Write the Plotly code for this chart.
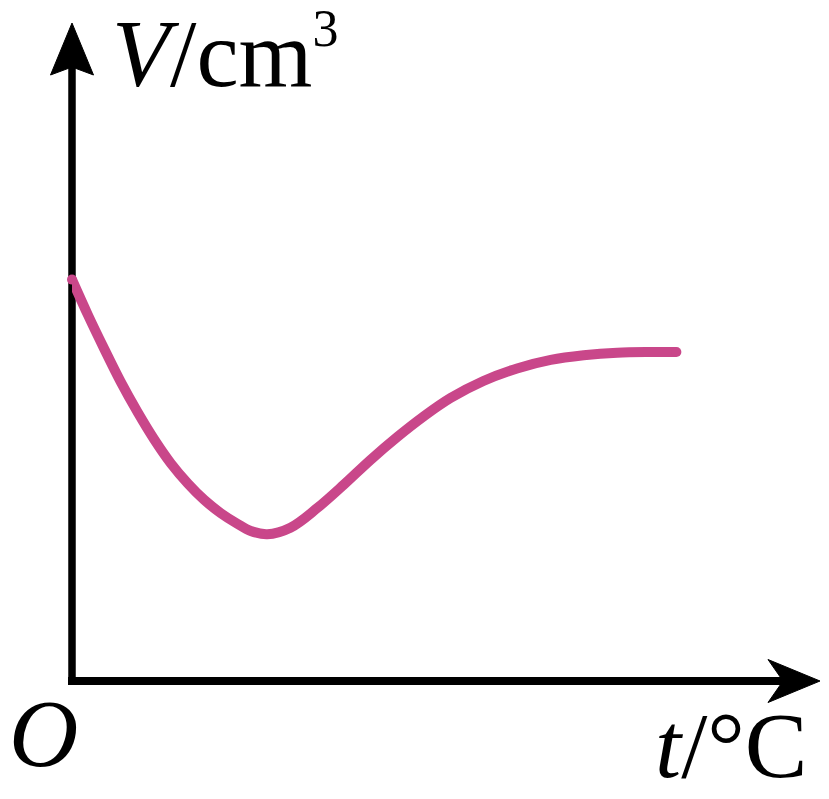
import plotly.graph_objects as go

# Curve values (t and V in arbitrary units, axes span 0..10)
t_vals = [0.00, 0.21, 0.43, 0.65, 0.88, 1.10, 1.32, 1.55, 1.77, 1.99, 2.21, 2.39, 2.61,
          2.92, 3.28, 3.64, 3.99, 4.35, 4.70, 5.06, 5.50, 5.95, 6.40, 6.84, 7.29, 7.73, 8.08]
v_vals = [6.10, 5.57, 5.05, 4.55, 4.08, 3.67, 3.31, 3.00, 2.75, 2.55, 2.39, 2.28, 2.23,
          2.33, 2.63, 2.99, 3.36, 3.71, 4.02, 4.30, 4.56, 4.75, 4.88, 4.95, 4.99, 5.00, 5.00]

x_label = "<i>t</i>/°C"
y_label = "<i>V</i>/cm<sup><span style='font-size:52px'>3</span></sup>"
origin_label = "<i>O</i>"

curve_color = "#C9478A"
serif = "Liberation Serif, Times New Roman, DejaVu Serif, serif"

L, R, T, B = 72, 9, 23, 118
W, H = 829, 799
pw, ph = W - L - R, H - T - B


def px_x(px):
    return (px - L) / pw


def px_y(py):
    return (H - B - py) / ph


fig = go.Figure()
fig.add_trace(go.Scatter(
    x=t_vals, y=v_vals, mode="lines",
    line=dict(color=curve_color, width=10, shape="spline", smoothing=1.0),
    hoverinfo="skip", showlegend=False, cliponaxis=False,
))
# round end caps
fig.add_trace(go.Scatter(
    x=[t_vals[0], t_vals[-1]], y=[v_vals[0], v_vals[-1]], mode="markers",
    marker=dict(color=curve_color, size=10, line=dict(width=0)),
    hoverinfo="skip", showlegend=False, cliponaxis=False,
))

# Axis shafts
fig.add_shape(type="line", xref="paper", yref="paper", x0=px_x(68), y0=0, x1=px_x(785), y1=0,
              line=dict(color="black", width=8), layer="below")
fig.add_shape(type="line", xref="paper", yref="paper", x0=0, y0=px_y(685), x1=0, y1=px_y(65),
              line=dict(color="black", width=7.5), layer="below")
# Arrowheads (shallow-notched)
hx = f"M {px_x(820)},{px_y(681)} L {px_x(768)},{px_y(702.5)} L {px_x(783)},{px_y(681)} L {px_x(768)},{px_y(659.5)} Z"
vy = f"M {px_x(72)},{px_y(23)} L {px_x(50.5)},{px_y(75)} L {px_x(72)},{px_y(67)} L {px_x(93.5)},{px_y(75)} Z"
for p in (hx, vy):
    fig.add_shape(type="path", xref="paper", yref="paper", path=p,
                  fillcolor="black", line=dict(color="black", width=1))

fig.add_annotation(x=px_x(110), y=px_y(53), xref="paper", yref="paper", text=y_label, showarrow=False,
                   xanchor="left", yanchor="middle", font=dict(family=serif, size=95, color="black"))
fig.add_annotation(x=px_x(43), y=px_y(733), xref="paper", yref="paper", text=origin_label, showarrow=False,
                   xanchor="center", yanchor="middle", font=dict(family=serif, size=96, color="black"))
fig.add_annotation(x=px_x(810), y=px_y(745), xref="paper", yref="paper", text=x_label, showarrow=False,
                   xanchor="right", yanchor="middle", font=dict(family=serif, size=94, color="black"))

fig.update_xaxes(range=[0, 10], visible=False, fixedrange=True)
fig.update_yaxes(range=[0, 10], visible=False, fixedrange=True)
fig.update_layout(
    width=W, height=H,
    margin=dict(l=L, r=R, t=T, b=B),
    plot_bgcolor="white", paper_bgcolor="white",
    showlegend=False,
)

fig.write_html("out.html", config={"displayModeBar": False})
